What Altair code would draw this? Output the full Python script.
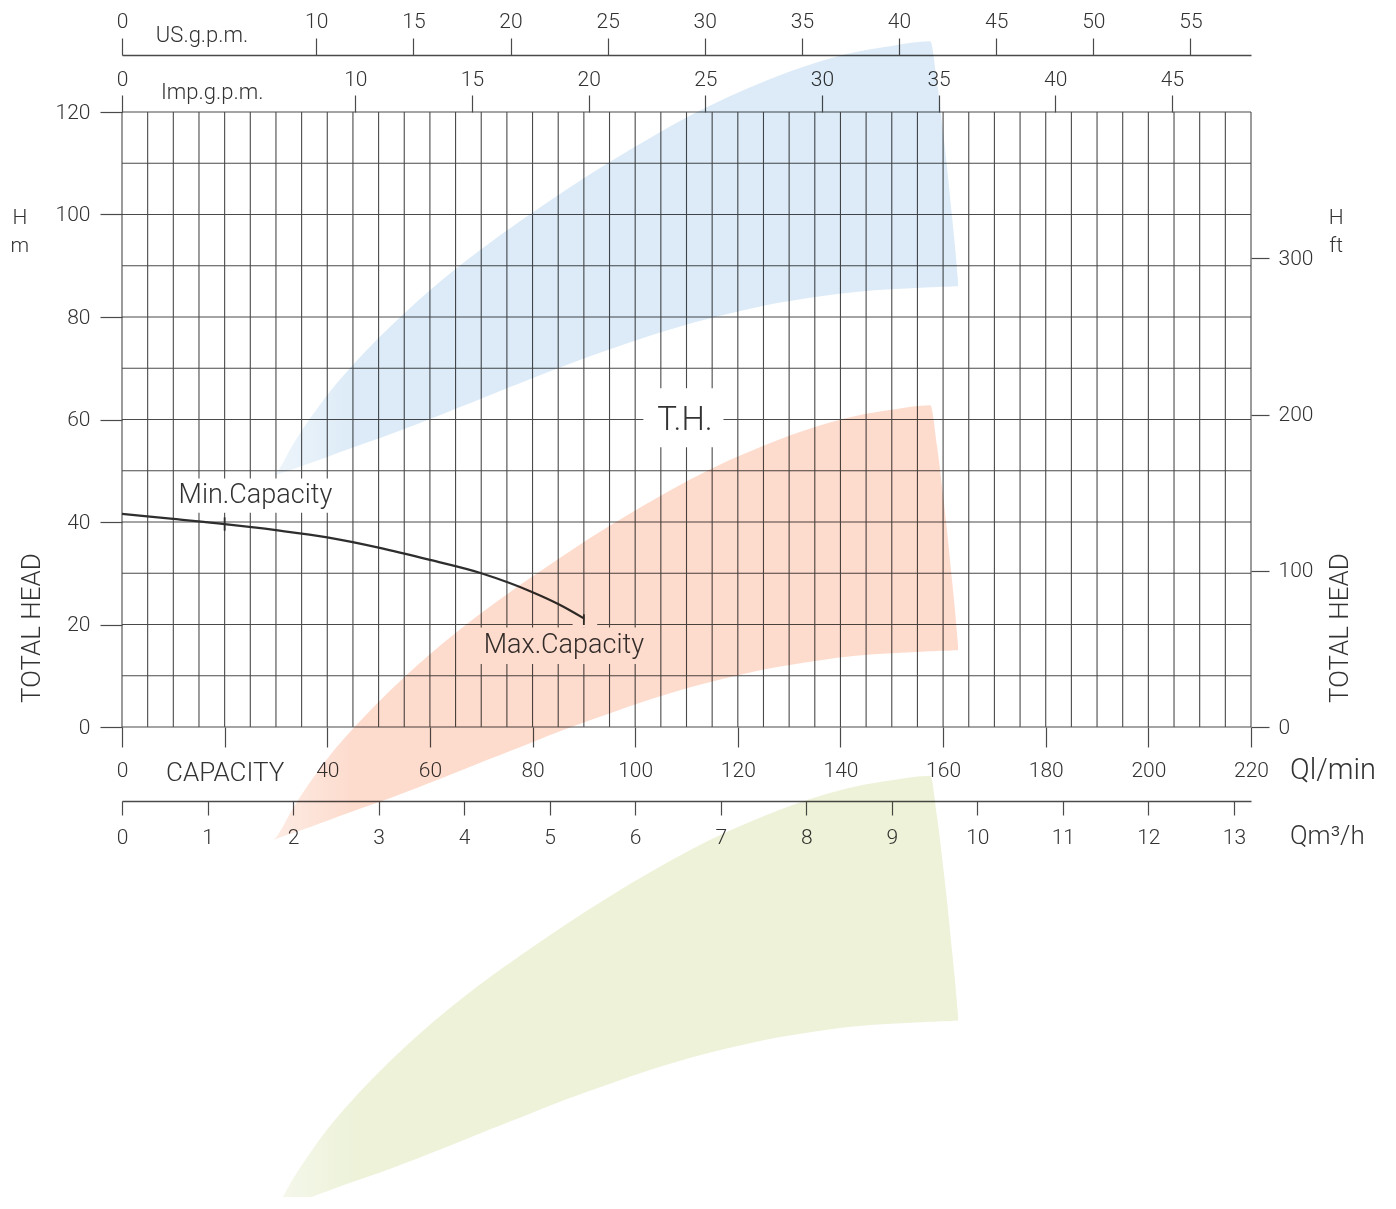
import altair as alt
import pandas as pd

W, HGT = 1129, 615
FONT = "Roboto"
INK = "#333333"
GRID = "#4a4a4a"

# ---- axis domains (all describe the same plot box) ----
Q_DOMAIN = [0, 220]        # l/min
H_DOMAIN = [0, 120]        # m
FT_DOMAIN = [0, 393.7]     # ft
IMP_DOMAIN = [0, 48.39]    # Imp.g.p.m.
US_DOMAIN = [0, 58.12]     # US.g.p.m.
M3_DOMAIN = [0, 13.2]      # m3/h

# ---- tick values ----
ql_ticks = [0, 20, 40, 60, 80, 100, 120, 140, 160, 180, 200, 220]
h_ticks = [0, 20, 40, 60, 80, 100, 120]
ft_ticks = [0, 100, 200, 300]
imp_ticks = [0, 10, 15, 20, 25, 30, 35, 40, 45]
us_ticks = [0, 10, 15, 20, 25, 30, 35, 40, 45, 50, 55]
m3_ticks = [0, 1, 2, 3, 4, 5, 6, 7, 8, 9, 10, 11, 12, 13]
grid_q = [0, 5, 10, 15, 20, 25, 30, 35, 40, 45, 50, 55, 60, 65, 70, 75, 80, 85, 90,
          95, 100, 105, 110, 115, 120, 125, 130, 135, 140, 145, 150, 155, 160, 165,
          170, 175, 180, 185, 190, 195, 200, 205, 210, 215, 220]
grid_h = [0, 10, 20, 30, 40, 50, 60, 70, 80, 90, 100, 110, 120]

# ---- pump curve (Q l/min, H m) ----
curve_q = [0, 10, 20, 30, 40, 50, 60, 70, 80, 85, 90]
curve_h = [41.6, 40.6, 39.6, 38.4, 37.0, 35.0, 32.6, 30.0, 26.3, 24.0, 21.2]

# capacity markers
marker_q = [20, 90]
marker_lo = [38.3, 19.9]
marker_hi = [40.9, 22.0]

# ---- decorative bands: Q, upper H, lower H ----
band_q = [29.6, 30.4, 33, 36.7, 40, 44.6, 50, 55.1, 60, 65.3, 72, 79.6, 87, 95.1,
          103, 110.9, 118, 125, 135.8, 143, 150, 157.5, 158.8, 159.9, 160.8, 161.6, 162.3, 162.9]
blue_hi = [49.0, 50.0, 54.6, 60.3, 64.8, 70.2, 75.9, 80.8, 85.2, 89.6, 94.7, 100.1, 105.1,
           110.3, 115.0, 119.4, 122.9, 125.9, 129.8, 131.7, 132.9, 133.8, 126.0, 117.0,
           109.0, 101.0, 94.0, 87.0]
blue_lo = [49.0, 49.3, 50.2, 51.5, 52.7, 54.4, 56.3, 58.2, 60.1, 62.2, 64.9, 67.9, 70.8,
           73.7, 76.4, 78.8, 80.6, 82.2, 84.0, 84.9, 85.4, 85.8, 85.85, 85.9, 85.9, 85.95,
           86.0, 86.0]
red_hi = [-22.0, -21.0, -16.4, -10.7, -6.2, -0.8, 4.9, 9.8, 14.2, 18.6, 23.7, 29.1, 34.1,
          39.3, 44.0, 48.4, 51.9, 54.9, 58.8, 60.7, 61.9, 62.8, 55.0, 46.0, 38.0, 30.0,
          23.0, 16.0]
red_lo = [-22.0, -21.7, -20.8, -19.5, -18.3, -16.6, -14.7, -12.8, -10.9, -8.8, -6.1, -3.1,
          -0.2, 2.7, 5.4, 7.8, 9.6, 11.2, 13.0, 13.9, 14.4, 14.8, 14.85, 14.9, 14.9, 14.95,
          15.0, 15.0]
green_hi = [-94.3, -93.3, -88.7, -83.0, -78.5, -73.1, -67.4, -62.5, -58.1, -53.7, -48.6,
            -43.2, -38.2, -33.0, -28.3, -23.9, -20.4, -17.4, -13.5, -11.6, -10.4, -9.5,
            -17.3, -26.3, -34.3, -42.3, -49.3, -56.3]
green_lo = [-94.3, -94.0, -93.1, -91.8, -90.6, -88.9, -87.0, -85.1, -83.2, -81.1, -78.4,
            -75.4, -72.5, -69.6, -66.9, -64.5, -62.7, -61.1, -59.3, -58.4, -57.9, -57.5,
            -57.45, -57.4, -57.4, -57.35, -57.3, -57.3]

# ---- label knock-outs (Q from, Q to, H from, H to) ----
gap_q1 = [11, 101.6, 69, 87.8]
gap_q2 = [42, 117.2, 102, 92.6]
gap_h1 = [41.8, 54.6, 12.3, 19.4]
gap_h2 = [48.5, 66.1, 19.4, 20.6]

# ---- annotations ----
note_text = ["Min.Capacity", "T.H.", "Max.Capacity"]
note_q = [26.0, 109.7, 86.1]
note_h = [45.3, 59.9, 16.0]
note_size = [27, 33, 27]

side_text = ["US.g.p.m.", "Imp.g.p.m.", "Ql/min", "Qm³/h"]
side_q = [6.6, 7.6, 227.6, 227.6]
side_h = [135.0, 123.9, -8.4, -21.3]
side_size = [22, 22, 29, 26]

unit_text = ["H", "m", "H", "ft"]
unit_q = [-19.9, -19.9, 236.6, 236.6]
unit_h = [99.3, 93.9, 99.3, 93.8]

head_q = [-17.5, 237.3]
head_h = [19.3, 19.3]


def qs():
    return alt.Scale(domain=Q_DOMAIN, nice=False, zero=False)


def hs():
    return alt.Scale(domain=H_DOMAIN, nice=False, zero=False)


def X(field):
    return alt.X(field, type="quantitative", scale=qs(), axis=None)


def Y(field):
    return alt.Y(field, type="quantitative", scale=hs(), axis=None)


# grid
grid_v = alt.Chart(pd.DataFrame({"q": grid_q})).mark_rule(color=GRID, strokeWidth=1.1).encode(
    x=X("q"), y=alt.Y(datum=0, scale=hs(), axis=None), y2=alt.Y2(datum=120))
grid_hz = alt.Chart(pd.DataFrame({"h": grid_h})).mark_rule(color=GRID, strokeWidth=1.1).encode(
    y=Y("h"), x=alt.X(datum=0, scale=qs(), axis=None), x2=alt.X2(datum=220))

gaps = alt.Chart(pd.DataFrame({"q1": gap_q1, "q2": gap_q2, "h1": gap_h1, "h2": gap_h2})).mark_rect(
    color="white").encode(x=X("q1"), x2="q2", y=Y("h1"), y2="h2")

curve = alt.Chart(pd.DataFrame({"q": curve_q, "h": curve_h})).mark_line(
    color="#2e2e2e", strokeWidth=2.2, interpolate="monotone").encode(x=X("q"), y=Y("h"))

markers = alt.Chart(pd.DataFrame({"q": marker_q, "lo": marker_lo, "hi": marker_hi})).mark_rule(
    color="#2e2e2e", strokeWidth=1.8).encode(x=X("q"), y=Y("lo"), y2="hi")

notes = alt.Chart(pd.DataFrame({"t": note_text, "q": note_q, "h": note_h, "s": note_size})).mark_text(
    font=FONT, fontWeight=300, color=INK, align="center", baseline="middle").encode(
    x=X("q"), y=Y("h"), text="t:N", size=alt.Size("s:Q", scale=None, legend=None))

sides = alt.Chart(pd.DataFrame({"t": side_text, "q": side_q, "h": side_h, "s": side_size})).mark_text(
    font=FONT, fontWeight=300, color=INK, align="left", baseline="middle").encode(
    x=X("q"), y=Y("h"), text="t:N", size=alt.Size("s:Q", scale=None, legend=None))

units = alt.Chart(pd.DataFrame({"t": unit_text, "q": unit_q, "h": unit_h})).mark_text(
    font=FONT, fontWeight=300, color=INK, align="center", baseline="middle", fontSize=21).encode(
    x=X("q"), y=Y("h"), text="t:N")

heads = alt.Chart(pd.DataFrame({"q": head_q, "h": head_h})).mark_text(
    font=FONT, fontWeight=300, color=INK, align="center", baseline="middle", fontSize=26,
    angle=270, text="TOTAL   HEAD").encode(x=X("q"), y=Y("h"))


def band(hi, lo, light, full):
    fill = alt.LinearGradient(gradient="linear", x1=0, x2=1, y1=0, y2=0,
                              stops=[alt.GradientStop(color=light, offset=0),
                                     alt.GradientStop(color=full, offset=0.12),
                                     alt.GradientStop(color=full, offset=1)])
    return alt.Chart(pd.DataFrame({"q": band_q, "hi": hi, "lo": lo})).mark_area(
        color=fill, opacity=1, blend="multiply", interpolate="monotone").encode(
        x=X("q"), y=Y("hi"), y2="lo")


bands = [band(blue_hi, blue_lo, "#eef5fb", "#dcebf7"),
         band(red_hi, red_lo, "#fdebe3", "#fddbcd"),
         band(green_hi, green_lo, "#f5f8ec", "#edf2d9")]

main = alt.layer(grid_v, grid_hz, gaps, curve, markers, notes, sides, units, heads, *bands)

# ---- axis layers ----
AX = dict(labelFont=FONT, labelFontWeight=300, labelColor=INK,
          tickColor=GRID, tickWidth=1.2, domainColor=GRID, domainWidth=1.4,
          labelFlush=False, labelOverlap=False, grid=False, title=None)

dom = pd.DataFrame({"q": Q_DOMAIN, "h": H_DOMAIN, "ft": FT_DOMAIN, "imp": IMP_DOMAIN,
                    "us": US_DOMAIN, "m3": M3_DOMAIN})

ax_qh = alt.Chart(dom).mark_point(opacity=0).encode(
    x=alt.X("q:Q", scale=qs(), axis=alt.Axis(
        orient="bottom", values=ql_ticks, tickSize=20, labelPadding=12, domain=False,
        labelFontSize={"condition": {"test": "datum.value == 20", "value": 26}, "value": 21},
        labelExpr="datum.value == 20 ? 'CAPACITY' : datum.label", **AX)),
    y=alt.Y("h:Q", scale=hs(), axis=alt.Axis(orient="left", values=h_ticks, tickSize=22,
            labelPadding=10, domain=False, labelFontSize=21, **AX)))

ax_ft = alt.Chart(dom).mark_point(opacity=0).encode(
    x=X("q"),
    y=alt.Y("ft:Q", scale=alt.Scale(domain=FT_DOMAIN, nice=False, zero=False),
            axis=alt.Axis(orient="right", values=ft_ticks, tickSize=18, labelPadding=9,
                          domain=False, labelFontSize=21, **AX)))

ax_imp = alt.Chart(dom).mark_point(opacity=0).encode(
    x=alt.X("imp:Q", scale=alt.Scale(domain=IMP_DOMAIN, nice=False, zero=False),
            axis=alt.Axis(orient="top", values=imp_ticks, tickSize=17, labelPadding=6,
                          domain=False, labelFontSize=21, **AX)),
    y=Y("h"))

ax_us = alt.Chart(dom).mark_point(opacity=0).encode(
    x=alt.X("us:Q", scale=alt.Scale(domain=US_DOMAIN, nice=False, zero=False),
            axis=alt.Axis(orient="top", values=us_ticks, tickSize=17, labelPadding=7,
                          offset=57, domain=True, labelFontSize=21, **AX)),
    y=Y("h"))

ax_m3 = alt.Chart(dom).mark_point(opacity=0).encode(
    x=alt.X("m3:Q", scale=alt.Scale(domain=M3_DOMAIN, nice=False, zero=False),
            axis=alt.Axis(orient="bottom", values=m3_ticks, tickSize=14, labelPadding=11,
                          offset=74, domain=True, labelFontSize=21, **AX)),
    y=Y("h"))

chart = alt.layer(main, ax_qh, ax_ft, ax_imp, ax_us, ax_m3).resolve_scale(
    x="independent", y="independent").properties(
    width=W, height=HGT, background="white",
    padding={"left": 114, "top": 104, "right": 130, "bottom": 470},
    autosize=alt.AutoSizeParams(type="none")).configure_view(stroke=None)

chart.save("out.html", embed_options={"renderer": "svg", "actions": False})
